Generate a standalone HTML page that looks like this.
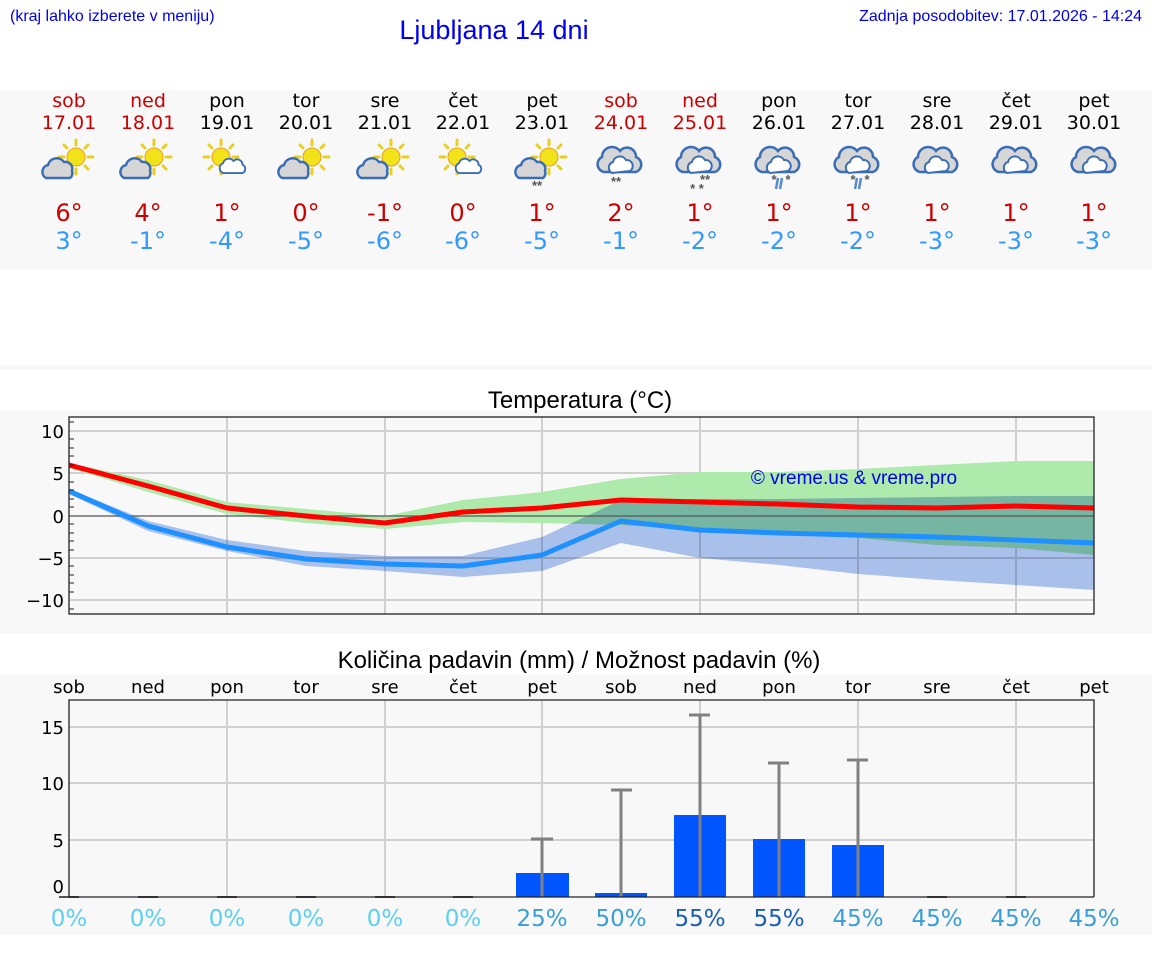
<!DOCTYPE html>
<html><head><meta charset="utf-8"><style>
html,body{margin:0;padding:0;background:#fff;}
svg{display:block;font-family:"Liberation Sans","DejaVu Sans",sans-serif;}
.d{font-family:"DejaVu Sans","Liberation Sans",sans-serif;}
</style></head><body>
<svg width="1152" height="975" viewBox="0 0 1152 975" xmlns="http://www.w3.org/2000/svg">
<defs>
<g id="sun">
 <g stroke="#e8d020" stroke-width="3" stroke-linecap="round">
  <line x1="0" y1="-17" x2="0" y2="-12"/><line x1="0" y1="17" x2="0" y2="12"/>
  <line x1="-17" y1="0" x2="-12" y2="0"/><line x1="17" y1="0" x2="12" y2="0"/>
  <line x1="-12" y1="-12" x2="-9" y2="-9"/><line x1="12" y1="12" x2="9" y2="9"/>
  <line x1="12" y1="-12" x2="9" y2="-9"/><line x1="-12" y1="12" x2="-9" y2="9"/>
 </g>
 <circle r="9" fill="#f2e21a" stroke="#e8a020" stroke-width="1"/>
</g>
<g id="cloudg">
 <path d="M-18,8 a7,7 0 0 1 2,-13 a9,9 0 0 1 16,-3 a7,7 0 0 1 8,9 a6,6 0 0 1 -2,7 z" fill="#d6d6d6" stroke="#3a6db5" stroke-width="2.5"/>
</g>
<g id="bigcloud">
 <path d="M-16,8 a8,8 0 0 1 -2,-15 a10,10 0 0 1 18,-6 a9,9 0 0 1 16,6 a8,8 0 0 1 0,15 z" fill="#d6d6d6" stroke="#3a6db5" stroke-width="2.5"/>
 <path d="M-8,9 a6,6 0 0 1 1,-11 a7,7 0 0 1 13,-2 a6,6 0 0 1 4,11 z" fill="#fff" stroke="#3a6db5" stroke-width="2"/>
</g>
</defs>
<rect width="1152" height="975" fill="#fff"/>
<text x="10" y="21" font-size="16" fill="#0000ee">(kraj lahko izberete v meniju)</text>
<text x="494" y="39" font-size="27" fill="#0000ee" text-anchor="middle">Ljubljana 14 dni</text>
<text x="1142" y="21" font-size="16" fill="#0000ee" text-anchor="end">Zadnja posodobitev: 17.01.2026 - 14:24</text>

<rect x="0" y="90" width="1152" height="180" fill="#f8f8f8"/>
<g class="d" font-size="19" text-anchor="middle">
<g fill="#cc0000"><text x="69" y="107">sob</text><text x="69" y="129">17.01</text><text x="148" y="107">ned</text><text x="148" y="129">18.01</text>
<text x="621" y="107">sob</text><text x="621" y="129">24.01</text><text x="700" y="107">ned</text><text x="700" y="129">25.01</text></g>
<g fill="#000">
<text x="227" y="107">pon</text><text x="227" y="129">19.01</text>
<text x="306" y="107">tor</text><text x="306" y="129">20.01</text>
<text x="385" y="107">sre</text><text x="385" y="129">21.01</text>
<text x="463" y="107">čet</text><text x="463" y="129">22.01</text>
<text x="542" y="107">pet</text><text x="542" y="129">23.01</text>
<text x="779" y="107">pon</text><text x="779" y="129">26.01</text>
<text x="858" y="107">tor</text><text x="858" y="129">27.01</text>
<text x="937" y="107">sre</text><text x="937" y="129">28.01</text>
<text x="1016" y="107">čet</text><text x="1016" y="129">29.01</text>
<text x="1094" y="107">pet</text><text x="1094" y="129">30.01</text></g>
</g>
<g>
<use href="#sun" x="76" y="157"/><use href="#cloudg" x="64" y="170"/>
<use href="#sun" x="154" y="157"/><use href="#cloudg" x="142" y="170"/>
<use href="#sun" x="221" y="157"/><g transform="translate(235,167) scale(0.75)"><path d="M-16,8 a7,7 0 0 1 0,-13 a8,8 0 0 1 14,-3 a7,7 0 0 1 12,5 a6,6 0 0 1 0,11 z" fill="#fff" stroke="#3a6db5" stroke-width="2.5"/></g>
<use href="#sun" x="312" y="157"/><use href="#cloudg" x="300" y="170"/>
<use href="#sun" x="391" y="157"/><use href="#cloudg" x="379" y="170"/>
<use href="#sun" x="457" y="157"/><g transform="translate(471,167) scale(0.75)"><path d="M-16,8 a7,7 0 0 1 0,-13 a8,8 0 0 1 14,-3 a7,7 0 0 1 12,5 a6,6 0 0 1 0,11 z" fill="#fff" stroke="#3a6db5" stroke-width="2.5"/></g>
<use href="#sun" x="549" y="157"/><use href="#cloudg" x="537" y="170"/>
<use href="#bigcloud" x="620" y="164"/><use href="#bigcloud" x="699" y="164"/>
<use href="#bigcloud" x="778" y="164"/><use href="#bigcloud" x="857" y="164"/>
<use href="#bigcloud" x="936" y="164"/><use href="#bigcloud" x="1015" y="164"/><use href="#bigcloud" x="1094" y="164"/>
<g font-size="13" fill="#555" text-anchor="middle" font-weight="bold">
<text x="537" y="190">**</text><text x="616" y="186">**</text>
<text x="705" y="184">**</text><text x="697" y="193">* *</text>
<text x="774" y="184">*</text><text x="788" y="184">*</text><text x="853" y="184">*</text><text x="867" y="184">*</text></g>
<g stroke="#5a8ad0" stroke-width="2.5"><line x1="778" y1="178" x2="776" y2="189"/><line x1="782" y1="178" x2="780" y2="189"/><line x1="857" y1="178" x2="855" y2="189"/><line x1="861" y1="178" x2="859" y2="189"/></g>
</g>
<g class="d" font-size="24" text-anchor="middle" fill="#cc0000">
<text x="69" y="221">6°</text><text x="148" y="221">4°</text><text x="227" y="221">1°</text><text x="306" y="221">0°</text><text x="385" y="221">-1°</text><text x="463" y="221">0°</text><text x="542" y="221">1°</text><text x="621" y="221">2°</text><text x="700" y="221">1°</text><text x="779" y="221">1°</text><text x="858" y="221">1°</text><text x="937" y="221">1°</text><text x="1016" y="221">1°</text><text x="1094" y="221">1°</text></g>
<g class="d" font-size="24" text-anchor="middle" fill="#3399ff">
<text x="69" y="249">3°</text><text x="148" y="249">-1°</text><text x="227" y="249">-4°</text><text x="306" y="249">-5°</text><text x="385" y="249">-6°</text><text x="463" y="249">-6°</text><text x="542" y="249">-5°</text><text x="621" y="249">-1°</text><text x="700" y="249">-2°</text><text x="779" y="249">-2°</text><text x="858" y="249">-2°</text><text x="937" y="249">-3°</text><text x="1016" y="249">-3°</text><text x="1094" y="249">-3°</text></g>

<rect x="0" y="365" width="1152" height="5" fill="#f8f8f8"/>
<!-- Temperature -->
<rect x="0" y="410" width="1152" height="224" fill="#f8f8f8"/>
<text x="580" y="408" font-size="24" text-anchor="middle" fill="#000">Temperatura (°C)</text>
<g stroke="#d0d0d0" stroke-width="2">
<line x1="69" y1="431" x2="1094" y2="431"/><line x1="69" y1="473" x2="1094" y2="473"/><line x1="69" y1="558" x2="1094" y2="558"/><line x1="69" y1="600" x2="1094" y2="600"/>
<line x1="227" y1="417" x2="227" y2="614"/><line x1="385" y1="417" x2="385" y2="614"/><line x1="542" y1="417" x2="542" y2="614"/><line x1="700" y1="417" x2="700" y2="614"/><line x1="858" y1="417" x2="858" y2="614"/><line x1="1016" y1="417" x2="1016" y2="614"/>
</g>
<polygon fill="#aeeaac" points="69,463 148,480 227,502 306,509 385,516 463,500 542,492 621,479 700,472 779,472 858,469 937,465 1016,461 1094,461 1094,555 1016,548 937,545 858,538 779,533 700,530 621,525 542,523 463,522 385,529 306,523 227,514 148,492 69,468"/>
<polygon fill="#aec6f2" style="mix-blend-mode:multiply" points="69,489 148,521 227,540 306,551 385,556 463,556 542,537 621,500 700,499 779,499 858,498 937,497 1016,496 1094,496 1094,590 1016,585 937,580 858,574 779,565 700,558 621,543 542,571 463,577 385,571 306,566 227,551 148,531 69,494"/>
<line x1="69" y1="516" x2="1094" y2="516" stroke="#555" stroke-width="1.3"/>
<polyline fill="none" stroke="#ff0000" stroke-width="5" stroke-linejoin="round" points="69,465 148,486 227,508 306,516 385,523 463,512 542,508 621,500 700,502 779,504 858,507 937,508 1016,506 1094,508"/>
<polyline fill="none" stroke="#1e90ff" stroke-width="5" stroke-linejoin="round" points="69,491 148,526 227,547 306,559 385,564 463,566 542,555 621,521 700,530 779,533 858,535 937,537 1016,540 1094,543"/>
<text x="854" y="484" font-size="19" fill="#0000ee" text-anchor="middle">© vreme.us &amp; vreme.pro</text>
<rect x="69" y="417" width="1025" height="197" fill="none" stroke="#222" stroke-width="1.3"/>
<g stroke="#222" stroke-width="1"><line x1="69" y1="448" x2="74" y2="448"/><line x1="69" y1="456" x2="74" y2="456"/><line x1="69" y1="490" x2="74" y2="490"/><line x1="69" y1="499" x2="74" y2="499"/><line x1="69" y1="533" x2="74" y2="533"/><line x1="69" y1="541" x2="74" y2="541"/><line x1="69" y1="575" x2="74" y2="575"/><line x1="69" y1="583" x2="74" y2="583"/><line x1="69" y1="439" x2="74" y2="439"/><line x1="69" y1="465" x2="74" y2="465"/><line x1="69" y1="482" x2="74" y2="482"/><line x1="69" y1="507" x2="74" y2="507"/><line x1="69" y1="524" x2="74" y2="524"/><line x1="69" y1="550" x2="74" y2="550"/><line x1="69" y1="566" x2="74" y2="566"/><line x1="69" y1="592" x2="74" y2="592"/><line x1="69" y1="609" x2="74" y2="609"/><line x1="69" y1="422" x2="74" y2="422"/></g>
<g class="d" font-size="18" text-anchor="end" fill="#000">
<text x="64" y="438">10</text><text x="64" y="480">5</text><text x="64" y="523">0</text><text x="64" y="565">−5</text><text x="64" y="607">−10</text></g>

<!-- Precipitation -->
<text x="579" y="668" font-size="24" text-anchor="middle" fill="#000">Količina padavin (mm) / Možnost padavin (%)</text>
<rect x="0" y="675" width="1152" height="260" fill="#f8f8f8"/>
<g class="d" font-size="18" text-anchor="middle" fill="#000">
<text x="69" y="693">sob</text><text x="148" y="693">ned</text><text x="227" y="693">pon</text><text x="306" y="693">tor</text><text x="385" y="693">sre</text><text x="463" y="693">čet</text><text x="542" y="693">pet</text><text x="621" y="693">sob</text><text x="700" y="693">ned</text><text x="779" y="693">pon</text><text x="858" y="693">tor</text><text x="937" y="693">sre</text><text x="1016" y="693">čet</text><text x="1094" y="693">pet</text></g>
<g stroke="#d0d0d0" stroke-width="2">
<line x1="69" y1="727" x2="1094" y2="727"/><line x1="69" y1="783" x2="1094" y2="783"/><line x1="69" y1="840" x2="1094" y2="840"/>
<line x1="227" y1="700" x2="227" y2="897"/><line x1="385" y1="700" x2="385" y2="897"/><line x1="542" y1="700" x2="542" y2="897"/><line x1="700" y1="700" x2="700" y2="897"/><line x1="858" y1="700" x2="858" y2="897"/><line x1="1016" y1="700" x2="1016" y2="897"/>
</g>
<g fill="#0055ff">
<rect x="516" y="873" width="53" height="24"/><rect x="595" y="893" width="52" height="4"/><rect x="674" y="815" width="52" height="82"/><rect x="753" y="839" width="52" height="58"/><rect x="832" y="845" width="52" height="52"/></g>
<g stroke="#808080" stroke-width="3">
<line x1="542" y1="839" x2="542" y2="897"/><line x1="531" y1="839" x2="553" y2="839"/>
<line x1="621" y1="790" x2="621" y2="897"/><line x1="611" y1="790" x2="632" y2="790"/>
<line x1="700" y1="715" x2="700" y2="897"/><line x1="689" y1="715" x2="710" y2="715"/>
<line x1="779" y1="763" x2="779" y2="897"/><line x1="768" y1="763" x2="789" y2="763"/>
<line x1="858" y1="760" x2="858" y2="897"/><line x1="847" y1="760" x2="868" y2="760"/>
</g>
<g stroke="#555" stroke-width="2"><line x1="59" y1="897" x2="79" y2="897"/><line x1="138" y1="897" x2="158" y2="897"/><line x1="217" y1="897" x2="237" y2="897"/><line x1="296" y1="897" x2="316" y2="897"/><line x1="375" y1="897" x2="395" y2="897"/><line x1="453" y1="897" x2="473" y2="897"/><line x1="927" y1="897" x2="947" y2="897"/><line x1="1006" y1="897" x2="1026" y2="897"/></g>
<polyline fill="none" stroke="#222" stroke-width="1.3" points="69,897 69,700 1094,700 1094,897"/>
<line x1="69" y1="897" x2="1094" y2="897" stroke="#222" stroke-width="1.3"/>
<g class="d" font-size="18" text-anchor="end" fill="#000">
<text x="64" y="734">15</text><text x="64" y="790">10</text><text x="64" y="847">5</text><text x="64" y="893">0</text></g>
<g class="d" font-size="23" text-anchor="middle">
<g fill="#5dd0ee"><text x="69" y="926">0%</text><text x="148" y="926">0%</text><text x="227" y="926">0%</text><text x="306" y="926">0%</text><text x="385" y="926">0%</text><text x="463" y="926">0%</text></g>
<g fill="#3a9fd8"><text x="542" y="926">25%</text><text x="621" y="926">50%</text><text x="858" y="926">45%</text><text x="937" y="926">45%</text><text x="1016" y="926">45%</text><text x="1094" y="926">45%</text></g>
<g fill="#1a5fb4"><text x="700" y="926">55%</text><text x="779" y="926">55%</text></g>
</g>
</svg>
</body></html>
